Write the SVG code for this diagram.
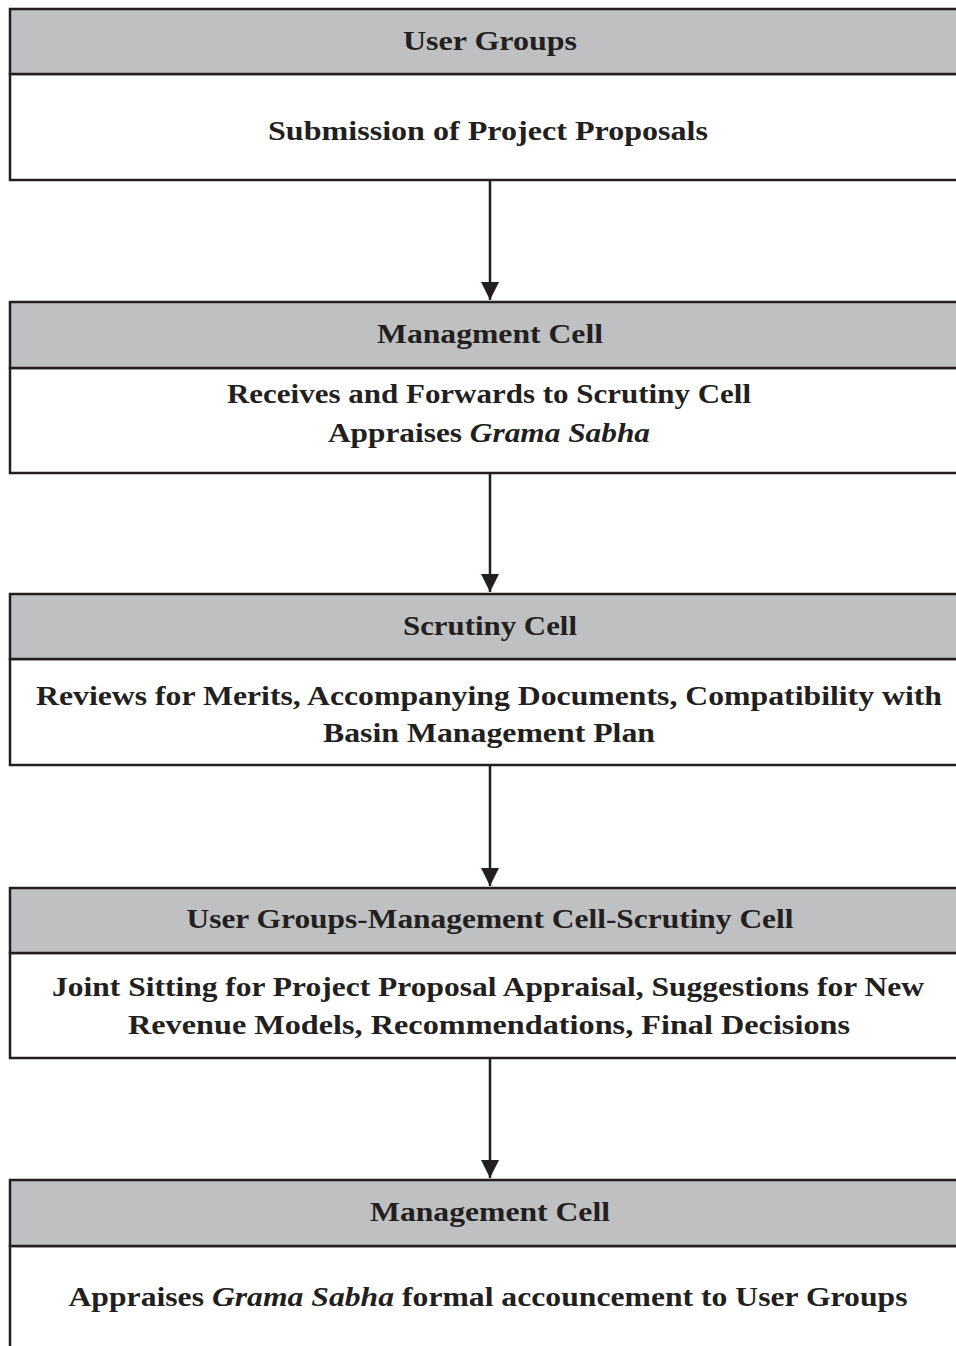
<svg xmlns="http://www.w3.org/2000/svg" width="956" height="1346" viewBox="0 0 956 1346">
<style>
.hdr{fill:#bfc0c2;stroke:#231f20;stroke-width:2.5}
.body{fill:#ffffff;stroke:#231f20;stroke-width:2.5}
.t{font-family:"Liberation Serif","Times New Roman",serif;font-weight:bold;font-size:28px;fill:#231f20;text-anchor:middle}
.i{font-style:italic}
.conn{stroke:#231f20;stroke-width:2.5;fill:none}
</style>
<defs>
<marker id="arr" markerUnits="userSpaceOnUse" markerWidth="20" markerHeight="18" refX="18" refY="9" orient="auto">
<path d="M0,0 L18,9 L0,18 Z" fill="#231f20"/>
</marker>
</defs>
<rect width="956" height="1346" fill="#ffffff"/>
<g id="connectors">
<line class="conn" x1="490" y1="181" x2="490" y2="300" marker-end="url(#arr)"/>
<line class="conn" x1="490" y1="474" x2="490" y2="592" marker-end="url(#arr)"/>
<line class="conn" x1="490" y1="766" x2="490" y2="886" marker-end="url(#arr)"/>
<line class="conn" x1="490" y1="1059" x2="490" y2="1178" marker-end="url(#arr)"/>
</g>
<g id="node1">
<rect class="body" x="10" y="74" width="960" height="106"/>
<rect class="hdr" x="10" y="9" width="960" height="65"/>
<text class="t" x="490" y="50" textLength="174" lengthAdjust="spacingAndGlyphs">User  Groups</text>
<text class="t" x="488" y="140" textLength="440" lengthAdjust="spacingAndGlyphs">Submission of  Project Proposals</text>
</g>
<g id="node2">
<rect class="body" x="10" y="368" width="960" height="105"/>
<rect class="hdr" x="10" y="302" width="960" height="66"/>
<text class="t" x="490" y="343" textLength="226" lengthAdjust="spacingAndGlyphs">Managment Cell</text>
<text class="t" x="489" y="403" textLength="524" lengthAdjust="spacingAndGlyphs">Receives and Forwards to Scrutiny Cell</text>
<text class="t" x="489" y="442" textLength="322" lengthAdjust="spacingAndGlyphs">Appraises <tspan class="i">Grama Sabha</tspan></text>
</g>
<g id="node3">
<rect class="body" x="10" y="659" width="960" height="106"/>
<rect class="hdr" x="10" y="594" width="960" height="65"/>
<text class="t" x="490" y="635" textLength="174" lengthAdjust="spacingAndGlyphs">Scrutiny Cell</text>
<text class="t" x="489" y="705" textLength="906" lengthAdjust="spacingAndGlyphs">Reviews for Merits, Accompanying Documents, Compatibility with</text>
<text class="t" x="489" y="742" textLength="332" lengthAdjust="spacingAndGlyphs">Basin Management Plan</text>
</g>
<g id="node4">
<rect class="body" x="10" y="953" width="960" height="105"/>
<rect class="hdr" x="10" y="888" width="960" height="65"/>
<text class="t" x="490" y="928" textLength="607" lengthAdjust="spacingAndGlyphs">User Groups-Management Cell-Scrutiny Cell</text>
<text class="t" x="488" y="996" textLength="872" lengthAdjust="spacingAndGlyphs">Joint Sitting for Project Proposal Appraisal, Suggestions for New</text>
<text class="t" x="489" y="1034" textLength="722" lengthAdjust="spacingAndGlyphs">Revenue Models, Recommendations, Final Decisions</text>
</g>
<g id="node5">
<rect class="body" x="10" y="1246" width="960" height="130"/>
<rect class="hdr" x="10" y="1180" width="960" height="66"/>
<text class="t" x="490" y="1221" textLength="240" lengthAdjust="spacingAndGlyphs">Management Cell</text>
<text class="t" x="488" y="1306" textLength="839" lengthAdjust="spacingAndGlyphs">Appraises <tspan class="i">Grama Sabha</tspan> formal accouncement to User Groups</text>
</g>
</svg>
